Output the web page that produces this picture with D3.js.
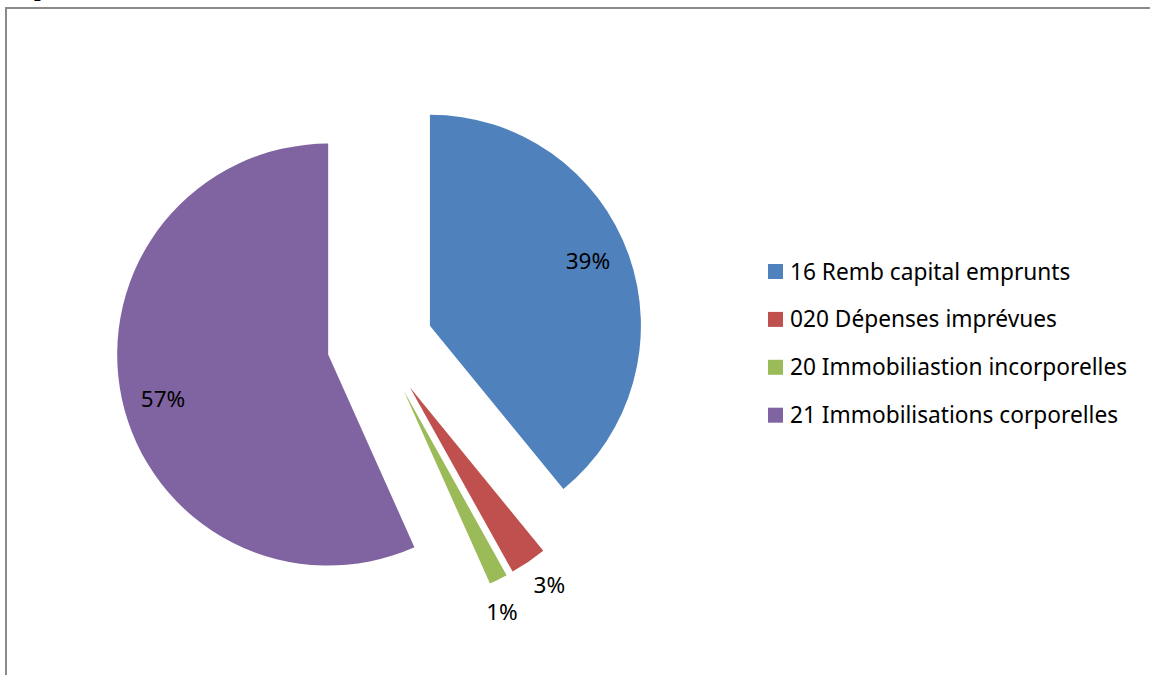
<!DOCTYPE html>
<html>
<head>
<meta charset="utf-8">
<script src="https://cdn.jsdelivr.net/npm/d3@7/dist/d3.min.js"></script>
<style>
  html, body { margin: 0; padding: 0; background: #fff; }
  svg { display: block; }
</style>
</head>
<body>
<script>
// ---- data ----
const categories = [
  "16 Remb capital emprunts",
  "020 Dépenses imprévues",
  "20 Immobiliastion incorporelles",
  "21 Immobilisations corporelles"
];
const values = [39.1, 2.8, 1.4, 56.7];
const colors = ["#4F81BD", "#C0504D", "#9BBB59", "#8064A2"];

// ---- layout ----
const W = 1150, H = 675;
const cx = 380, cy = 343.5, R = 211, explode = 53;
const fontFam = "'Noto Sans', 'Open Sans', sans-serif";
const labelSize = 22.5, legendSize = 22.7;
// small angular nudges (degrees) applied to label placement, like Excel's label layout
const labelNudgeDeg = [-2.8, -1.0, 2.7, -2.8];

const svg = d3.select("body").append("svg")
  .attr("width", W).attr("height", H);

// heading fragment cut off above the frame
svg.append("text")
  .attr("x", 34).attr("y", -4)
  .attr("font-family", "'Liberation Serif', serif")
  .attr("font-weight", "bold")
  .attr("font-size", 24)
  .attr("fill", "#000")
  .text("p");

// frame (top and left edges visible)
svg.append("path")
  .attr("d", `M6,${H + 5} L6,8 L${W + 5},8`)
  .attr("fill", "none")
  .attr("stroke", "#8a8a8a")
  .attr("stroke-width", 2);

const total = d3.sum(values);
const data = categories.map((c, i) => ({ name: c, value: values[i], color: colors[i], i }));

const pie = d3.pie().sort(null).value(d => d.value);
const arcs = pie(data);
const arc = d3.arc().innerRadius(0).outerRadius(R);

const g = svg.append("g").attr("transform", `translate(${cx},${cy})`);

const slice = g.selectAll("g.slice").data(arcs).join("g")
  .attr("class", "slice")
  .attr("transform", d => {
    const a = (d.startAngle + d.endAngle) / 2;
    return `translate(${explode * Math.sin(a)},${-explode * Math.cos(a)})`;
  });

slice.append("path")
  .attr("d", arc)
  .attr("fill", d => d.data.color);

slice.append("text")
  .attr("transform", d => {
    const small = d.data.value / total < 0.05;
    const rr = small ? R + 31 : R * 0.81;
    const a = (d.startAngle + d.endAngle) / 2 + labelNudgeDeg[d.data.i] * Math.PI / 180;
    return `translate(${rr * Math.sin(a)},${-rr * Math.cos(a)})`;
  })
  .attr("text-anchor", "middle")
  .attr("dy", "0.36em")
  .attr("font-family", fontFam)
  .attr("font-size", labelSize)
  .attr("fill", "#000")
  .text(d => Math.round(d.data.value / total * 100) + "%");

// legend
const legend = svg.append("g").attr("transform", "translate(768,264)");
const row = legend.selectAll("g").data(data).join("g")
  .attr("transform", (d, i) => `translate(0,${i * 47.9})`);
row.append("rect")
  .attr("width", 15).attr("height", 15)
  .attr("fill", d => d.color);
row.append("text")
  .attr("x", 22).attr("y", 15.5)
  .attr("font-family", fontFam)
  .attr("font-size", legendSize)
  .attr("fill", "#000")
  .text(d => d.name);
</script>
</body>
</html>
